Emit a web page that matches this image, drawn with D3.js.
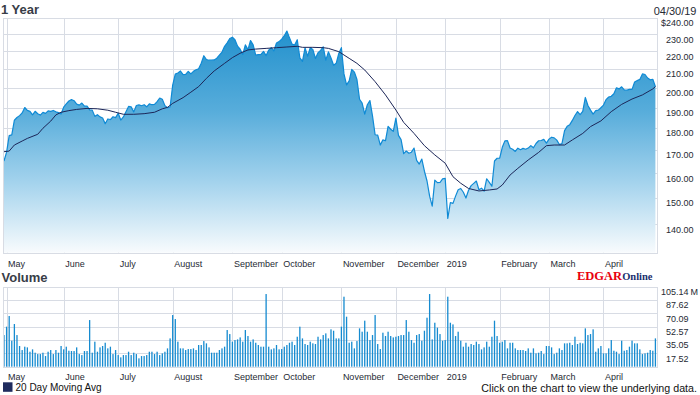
<!DOCTYPE html>
<html>
<head>
<meta charset="utf-8">
<script src="https://cdn.jsdelivr.net/npm/d3@7"></script>
<style>
  html, body { margin: 0; padding: 0; background: #fff; }
  svg { display: block; font-family: Arial, "Liberation Sans", sans-serif; }
  .grid line { stroke: #d8dce4; stroke-width: 1; shape-rendering: crispEdges; }
  .lbl { font-size: 9px; fill: #262a34; }
</style>
</head>
<body>
<svg id="chart" width="700" height="395"></svg>
<script>
// ---- data (trading day index 0 = 04/30/18 ... 251 = 04/30/19) ----
const monthLabels = ['May', 'June', 'July', 'August', 'September', 'October',
    'November', 'December', '2019', 'February', 'March', 'April'];
const monthStarts = [1, 23, 44, 65, 88, 107, 130, 151, 170, 191, 210, 231];

const priceTicks = [140, 150, 160, 170, 180, 190, 200, 210, 220, 230, 240];
const volumeTicks = [17.52, 35.05, 52.57, 70.09, 87.62, 105.14];

// daily close
const closes = [
    165.26,
    169.10, 176.57, 176.89, 183.83, 185.16, 186.05, 187.36, 190.04, 188.59, 188.15, 186.44,
    188.18, 186.99, 186.31, 187.63, 187.16, 188.36, 188.15, 188.58, 187.90, 187.50, 186.87,
    190.24, 191.83, 193.31, 193.98, 193.46, 191.70, 191.23, 192.28, 190.70, 190.80, 188.84,
    188.74, 185.69, 186.50, 185.46, 184.92, 182.17, 184.43, 184.16, 185.50, 185.11,
    187.18, 183.92, 185.40, 187.97, 190.58, 190.35, 187.88, 191.03, 191.33, 190.91, 191.45,
    190.40, 191.88, 191.44, 191.61, 193.00, 194.82, 194.21, 190.98, 189.91, 190.29,
    201.50, 207.39, 207.99, 209.07, 207.11, 207.25, 208.88, 207.53, 208.87, 209.75, 210.24,
    213.32, 217.58, 215.46, 215.04, 215.05, 215.19, 216.16, 217.94, 219.70, 222.98, 225.03, 227.63,
    228.36, 226.87, 223.10, 221.30, 218.33, 223.85, 221.07, 226.41, 223.84, 217.88,
    218.24, 218.37, 220.03, 217.66, 220.79, 222.19, 220.42, 224.95, 225.74,
    227.26, 229.28, 232.07, 227.99, 224.29, 223.77, 226.87, 216.36, 214.45, 222.11, 217.36,
    222.15, 221.19, 216.02, 219.31, 220.65, 222.73, 215.09, 219.80, 216.30, 212.24, 213.30, 218.86,
    222.22, 207.48, 201.59, 203.77, 209.95, 208.49, 204.47, 194.17, 192.23, 186.80, 191.41,
    193.53, 185.86, 176.98, 176.78, 172.29, 174.62, 174.24, 180.94, 179.55, 178.58,
    184.82, 176.69, 174.72, 168.49, 169.60, 168.63, 169.10, 170.95, 165.48, 163.94,
    166.07, 160.89, 156.83, 150.73, 146.83, 157.17, 156.15, 156.23, 157.74,
    157.92, 142.19, 148.26, 147.93, 150.75, 153.31, 153.80, 152.29, 150.00, 153.07, 154.94,
    155.86, 156.82, 153.30, 153.92, 152.70, 157.76, 156.30, 154.68, 165.25, 166.44,
    166.52, 171.25, 174.18, 174.24, 170.94, 170.41, 169.43, 170.89, 170.18, 170.80,
    170.42, 170.93, 172.03, 171.06, 172.97, 174.23, 174.33, 174.87, 173.15,
    174.97, 175.85, 175.53, 174.52, 172.50, 172.91, 178.90, 180.91, 181.71, 183.73, 186.12,
    188.02, 186.53, 188.16, 195.09, 191.05, 188.74, 186.79, 188.47, 188.72, 189.95,
    191.24, 194.02, 195.35, 195.69, 197.00, 200.10, 199.50, 200.62, 198.95, 198.87, 199.23,
    199.25, 203.13, 203.86, 204.53, 207.48, 207.16, 205.28, 204.30, 204.61, 200.67
];

// moving average line, read at sample days
const maDays = [0, 2, 4, 7, 9, 13, 15, 18, 20, 22, 25, 28, 32, 36, 40, 43, 46, 50, 54, 58,
    61, 63, 65, 69, 72, 75, 78, 81, 85, 88, 91, 94, 97, 101, 105, 109, 113, 115, 119, 123,
    125, 129, 133, 136, 139, 143, 147, 151, 154, 158, 162, 166, 170, 173, 176, 179, 183, 187,
    190, 192, 195, 198, 202, 206, 209, 212, 216, 219, 223, 226, 230, 234, 238, 242, 246, 250, 251];
const maValues = [169.3, 169.6, 172.3, 174.1, 175.3, 177.2, 180.0, 183.4, 186.4, 187.7,
    188.5, 189.1, 189.6, 189.4, 188.7, 187.7, 186.7, 186.7, 187.0, 187.7,
    189.4, 190.1, 192.1, 195.0, 197.8, 200.7, 205.1, 209.1, 213.3, 216.5,
    219.0, 220.9, 221.4, 221.8, 222.2, 222.6, 223.0, 222.4, 222.4, 222.2,
    221.8, 219.9, 216.1, 213.3, 209.6, 203.3, 196.4, 188.8, 182.8, 177.6,
    172.0, 167.9, 164.3, 158.6, 155.9, 153.8, 152.8, 153.2, 153.6, 155.2,
    159.3, 162.1, 165.7, 169.0, 172.0, 172.3, 172.3, 174.6, 177.6, 180.8,
    183.5, 188.0, 191.6, 194.3, 196.4, 199.5, 200.7];

// daily volume, millions
const volumes = [
    41.6, 52.6, 66.6, 34.2, 56.1, 41.6, 27.2, 21.9, 26.3, 25.4,
    19.7, 22.8, 18.4, 16.6, 16.6, 18.4, 14.0, 19.7, 21.9, 16.6,
    21.9, 18.4, 27.2, 22.8, 26.3, 21.0, 20.6, 20.6, 25.4, 16.6,
    15.3, 20.6, 20.6, 61.3, 18.4, 32.9, 19.7, 25.4, 27.2, 31.5,
    24.1, 26.3, 16.6, 21.9, 15.3, 12.3, 15.3, 15.3, 19.7, 15.3,
    18.4, 16.6, 11.0, 14.0, 14.0, 15.3, 19.7, 19.7, 16.6, 19.7,
    15.3, 17.5, 19.7, 24.1, 37.2, 67.9, 62.6, 32.9, 24.1, 24.1,
    21.9, 23.2, 23.2, 24.1, 21.9, 28.5, 28.5, 33.7, 30.7, 25.4,
    18.4, 18.4, 18.4, 21.9, 24.1, 26.3, 48.2, 42.9, 32.9, 35.0,
    35.9, 38.5, 32.9, 48.2, 40.3, 32.9, 35.9, 31.5, 28.5, 26.3,
    26.3, 95.5, 26.3, 22.8, 24.1, 28.5, 22.8, 23.2, 26.3, 28.5,
    31.5, 32.9, 28.5, 39.4, 52.6, 37.2, 29.8, 28.5, 32.9, 30.7,
    29.8, 39.4, 35.9, 41.6, 43.8, 37.2, 49.1, 47.3, 37.2, 37.2,
    52.6, 92.0, 65.7, 31.5, 32.9, 24.1, 33.7, 50.4, 46.0, 60.5,
    46.0, 35.0, 41.6, 67.9, 29.8, 23.2, 44.7, 40.3, 46.0, 40.3,
    38.5, 39.4, 40.3, 41.6, 41.6, 61.3, 46.0, 35.0, 31.5, 41.6,
    42.9, 34.2, 47.3, 64.4, 95.5, 35.9, 57.8, 51.3, 42.9, 34.2,
    35.0, 92.0, 57.8, 55.6, 40.3, 46.0, 34.2, 26.3, 31.5, 26.3,
    29.8, 28.5, 32.9, 29.8, 22.8, 25.4, 32.9, 26.3, 39.4, 60.5,
    40.3, 31.5, 32.9, 35.0, 24.1, 31.5, 31.5, 24.1, 21.9, 21.9,
    21.9, 20.6, 24.1, 18.4, 24.1, 17.5, 18.4, 20.6, 16.6, 27.2,
    27.2, 25.4, 16.6, 18.4, 24.1, 21.9, 30.7, 30.7, 31.5, 28.5,
    39.4, 29.8, 31.5, 30.7, 50.4, 41.6, 42.9, 49.1, 19.7, 24.1,
    27.2, 17.5, 17.5, 24.1, 35.0, 21.0, 19.7, 16.6, 34.2, 21.0,
    21.9, 26.3, 34.2, 30.7, 30.7, 22.8, 16.6, 17.5, 18.4, 21.9,
    21.0, 37.2
];

// ---- layout ----
const svg = d3.select('#chart');
const left = 2.7, right = 656.7;
const priceTop = 18.2, priceBottom = 252.8;
const volTop = 286.7, volBottom = 366.7;

const x = d3.scaleLinear().domain([-0.5, 251.5]).range([left, right]);
const yPrice = d3.scaleLog().domain([130, 240]).range([priceBottom, priceTop]);
const yVol = d3.scaleLinear().domain([0, 105.14]).range([volBottom, volTop]);
const crisp = v => Math.round(v) + 0.5;

// gradient for price area
const grad = svg.append('defs').append('linearGradient')
    .attr('id', 'priceFill')
    .attr('gradientUnits', 'userSpaceOnUse')
    .attr('x1', 0).attr('x2', 0)
    .attr('y1', priceTop).attr('y2', priceBottom);
[[0, '#1b8dcb'], [0.4, '#58addb'], [0.7, '#a4d3ed'], [1, '#f8fbfd']].forEach(s => {
    grad.append('stop').attr('offset', s[0]).attr('stop-color', s[1]);
});

// grid helper
function drawGrid(yScale, ticks, top, bottom) {
    const g = svg.append('g').attr('class', 'grid');
    g.selectAll('.h').data(ticks).enter().append('line')
        .attr('x1', left).attr('x2', right)
        .attr('y1', d => crisp(yScale(d))).attr('y2', d => crisp(yScale(d)));
    g.selectAll('.v').data(monthStarts).enter().append('line')
        .attr('x1', d => crisp(x(d))).attr('x2', d => crisp(x(d)))
        .attr('y1', top).attr('y2', bottom);
    return g;
}

function drawFrame(top, bottom) {
    svg.append('rect')
        .attr('x', crisp(left)).attr('y', crisp(top))
        .attr('width', Math.round(right) - Math.round(left))
        .attr('height', Math.round(bottom) - Math.round(top))
        .attr('fill', 'none').attr('stroke', '#d8dce4')
        .style('shape-rendering', 'crispEdges');
}

function drawMonths(baseline) {
    svg.append('g').selectAll('text').data(monthStarts).enter().append('text')
        .attr('class', 'lbl')
        .attr('x', d => x(d) + 1.5)
        .attr('y', baseline)
        .text((d, i) => monthLabels[i]);
}

// ---- price panel ----
drawGrid(yPrice, priceTicks, priceTop, priceBottom);

svg.append('path')
    .datum(closes)
    .attr('fill', 'url(#priceFill)')
    .attr('d', d3.area()
        .x((d, i) => x(i))
        .y0(priceBottom)
        .y1(d => yPrice(d)));

svg.append('path')
    .datum(closes)
    .attr('fill', 'none')
    .attr('stroke', '#0f8ad5')
    .attr('stroke-width', 1.2)
    .attr('stroke-linejoin', 'round')
    .attr('d', d3.line().x((d, i) => x(i)).y(d => yPrice(d)));

svg.append('path')
    .datum(maDays.map((d, i) => [d, maValues[i]]))
    .attr('fill', 'none')
    .attr('stroke', '#1c2658')
    .attr('stroke-width', 1)
    .attr('d', d3.line().x(d => x(d[0])).y(d => yPrice(d[1])));

drawFrame(priceTop, priceBottom);

svg.append('g').selectAll('text').data(priceTicks).enter().append('text')
    .attr('class', 'lbl')
    .attr('text-anchor', 'end')
    .attr('x', 693.5)
    .attr('y', d => yPrice(d) + 8.2)
    .text(d => (d === 240 ? '$' : '') + d.toFixed(2));

drawMonths(266.5);

svg.append('text')
    .attr('x', 1).attr('y', 13.5)
    .style('font-size', '13px').style('font-weight', 'bold').style('fill', '#383d47')
    .text('1 Year');

svg.append('text')
    .attr('x', 696.5).attr('y', 15)
    .attr('text-anchor', 'end')
    .style('font-size', '11px').style('fill', '#262a34')
    .text('04/30/19');

// EDGAR Online mark
const logo = svg.append('text').attr('x', 577).attr('y', 279.5)
    .style('font-family', '"Liberation Serif", "DejaVu Serif", serif')
    .style('font-weight', 'bold');
logo.append('tspan').style('font-size', '12.5px').style('fill', '#e8000d').text('EDGAR');
logo.append('tspan').style('font-size', '10.5px').style('fill', '#1b2f6e').text('Online');

// ---- volume panel ----
svg.append('text')
    .attr('x', 1.5).attr('y', 281.7)
    .style('font-size', '13px').style('font-weight', 'bold').style('fill', '#383d47')
    .text('Volume');

drawGrid(yVol, volumeTicks, volTop, volBottom);

svg.append('g').selectAll('rect').data(volumes).enter().append('rect')
    .attr('x', (d, i) => x(i) - 0.65)
    .attr('width', 1.3)
    .attr('y', d => yVol(d))
    .attr('height', d => yVol(0) - yVol(d))
    .attr('fill', '#168bd0');

drawFrame(volTop, volBottom);

svg.append('g').selectAll('text').data(volumeTicks).enter().append('text')
    .attr('class', 'lbl')
    .attr('text-anchor', 'end')
    .attr('x', 688.5)
    .attr('y', d => yVol(d) + 8.3)
    .text(d => d.toFixed(2));
svg.append('text')
    .attr('class', 'lbl')
    .attr('x', 690.5)
    .attr('y', yVol(105.14) + 8.3)
    .text('M');

drawMonths(380.2);

// legend + footer
svg.append('rect')
    .attr('x', 3).attr('y', 382.3).attr('width', 9.5).attr('height', 9.5)
    .attr('fill', '#1f2b5e');
svg.append('text')
    .attr('x', 15.5).attr('y', 391)
    .style('font-size', '10px').style('fill', '#111')
    .text('20 Day Moving Avg');
svg.append('text')
    .attr('x', 697).attr('y', 391.5)
    .attr('text-anchor', 'end')
    .style('font-size', '10.7px').style('fill', '#111')
    .text('Click on the chart to view the underlying data.');
</script>
</body>
</html>
